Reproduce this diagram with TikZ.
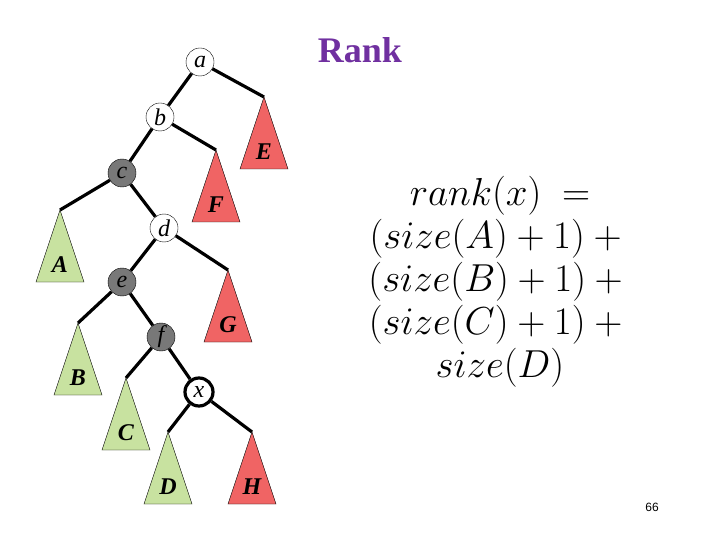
\RequirePackage{fix-cm}
\documentclass[tikz,border=0pt]{standalone}
\usepackage[no-math]{fontspec}
\setmainfont{Liberation Serif}
\newfontfamily\pagefont{Liberation Sans}
\usepackage{tikz}
\usetikzlibrary{calc}
\definecolor{redtree}{RGB}{240,100,100}
\definecolor{greentree}{RGB}{200,226,160}
\definecolor{graynode}{RGB}{120,120,120}
\definecolor{rankpurple}{RGB}{112,48,160}

\tikzset{
  key/.style={circle,draw,thin,fill=white,minimum size=28pt,inner sep=0pt,font=\fontsize{24}{24}\selectfont\itshape},
  grey/.style={key,fill=graynode},
  edge/.style={line width=3.2pt},
  subt/.style={draw,thin},
  subtlabel/.style={font=\fontsize{24}{24}\selectfont\bfseries\itshape}
}

\begin{document}
\begin{tikzpicture}[x=1pt,y=-1pt]
      \useasboundingbox (0,0) rectangle (720,540);
      %Tree nodes
      \node[key]  (a) at (200, 62) {a};
      \node[key]  (b) at (160,117) {b};
      \node[grey] (c) at (122,173) {c};
      \node[key]  (d) at (164,228) {d};
      \node[grey] (e) at (122,282) {e};
      \node[grey] (f) at (161,337) {f};
      \node[key,line width=3.2pt] (x) at (199,392) {x};
      %Subtree tops
      \coordinate (tA) at ( 60,210);
      \coordinate (tB) at ( 78,323);
      \coordinate (tC) at (126,378);
      \coordinate (tD) at (168,432);
      \coordinate (tE) at (264, 97);
      \coordinate (tF) at (216,150);
      \coordinate (tG) at (228,270);
      \coordinate (tH) at (252,432);
      %Color fill
      \foreach \t/\c in {A/greentree,B/greentree,C/greentree,D/greentree,E/redtree,F/redtree,G/redtree,H/redtree} {
          \filldraw[subt,fill=\c] (t\t) -- ++(-24,72) -- ++(48,0) -- cycle;
          \node[subtlabel] (l\t) at ($(t\t)+(0,55)$) {\t};
        }
      %Draw lines
      \draw[edge] (a) -- (b);
      \draw[edge] (a) -- (tE);
      \draw[edge] (b) -- (c);
      \draw[edge] (b) -- (tF);
      \draw[edge] (c) -- (tA);
      \draw[edge] (c) -- (d);
      \draw[edge] (d) -- (e);
      \draw[edge] (d) -- (tG);
      \draw[edge] (e) -- (tB);
      \draw[edge] (e) -- (f);
      \draw[edge] (f) -- (tC);
      \draw[edge] (f) -- (x);
      \draw[edge] (x) -- (tD);
      \draw[edge] (x) -- (tH);
      %Draw labels
      \node[text=rankpurple,font=\fontsize{36}{36}\selectfont\bfseries] (title) at (360,50) {Rank};
      \node[align=center,font=\fontsize{39}{43}\selectfont] (formula) at (500,282) {%
        $rank(x)\ =$\\
        $(size(A)+1)+{}$\\
        $(size(B)+1)+{}$\\
        $(size(C)+1)+{}$\\
        $size(D)$};
      \node[font=\pagefont\fontsize{12}{12}\selectfont] (page) at (652,507) {66};
    \end{tikzpicture}
\end{document}
